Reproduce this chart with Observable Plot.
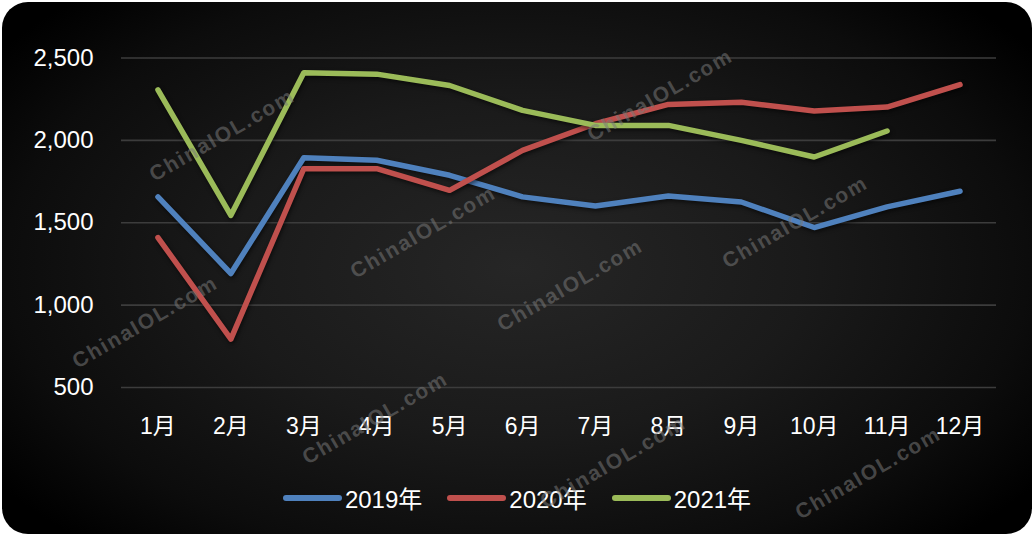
<!DOCTYPE html>
<html>
<head>
<meta charset="utf-8">
<script src="https://cdn.jsdelivr.net/npm/d3@7"></script>
<script src="https://cdn.jsdelivr.net/npm/@observablehq/plot@0.6"></script>
<style>
  html, body { margin: 0; padding: 0; background: #ffffff; }
  #wrap { position: relative; width: 1034px; height: 536px; overflow: hidden; font-family: "Liberation Sans", Arial, "Noto Sans CJK SC", sans-serif; }
  #card { position: absolute; left: 2px; top: 2px; width: 1030px; height: 532px; border-radius: 26px;
          background: radial-gradient(ellipse 62% 70% at 50% 50%, #262626 0%, #1a1a1a 45%, #0c0c0c 80%, #000000 100%); }
  #chart { position: absolute; left: 0; top: 0; }
  #legend { position: absolute; left: 0; top: 480px; width: 1034px; display: flex; justify-content: center; gap: 25px;
            color: #ffffff; font-size: 24px; padding-left: 0px; }
  .item { display: flex; align-items: center; }
  .sw { width: 59px; height: 6px; border-radius: 3px; margin-right: 3px; }
  .wm { position: absolute; color: rgba(120,120,120,0.55); font-weight: bold; font-size: 21px; letter-spacing: 1.8px;
        transform: translate(-50%,-50%) rotate(-30deg); white-space: nowrap; pointer-events: none; font-family: "Liberation Sans", Arial, sans-serif; }
</style>
</head>
<body>
<div id="wrap">
  <div id="card"></div>
  <div id="chart"></div>
  <div id="legend"></div>
</div>
<script>
const months = ["1月","2月","3月","4月","5月","6月","7月","8月","9月","10月","11月","12月"];
const seriesNames = ["2019年","2020年","2021年"];
const colors = ["#4F81BD","#C0504D","#9BBB59"];
const values2019 = [1657,1192,1895,1879,1788,1657,1602,1662,1626,1471,1596,1691];
const values2020 = [1410,794,1828,1828,1697,1939,2101,2218,2232,2178,2202,2338];
const values2021 = [2307,1545,2410,2402,2333,2182,2091,2091,2000,1899,2057,null];
const yTicks = [500,1000,1500,2000,2500];
const watermark = "ChinaIOL.com";
const watermarkSpots = [[222,135],[423,232],[145,322],[570,285],[660,95],[795,222],[375,418],[613,462],[868,473]];

const allSeries = [values2019, values2020, values2021];
const data = [];
allSeries.forEach((vals, si) => {
  vals.forEach((v, i) => {
    if (v !== null) data.push({month: months[i], value: v, series: seriesNames[si]});
  });
});

const chart = Plot.plot({
  width: 1034,
  height: 470,
  marginLeft: 121,
  marginRight: 38,
  marginTop: 57.5,
  marginBottom: 83,
  style: {background: "transparent", color: "#ffffff", fontFamily: "'Liberation Sans', Arial, 'Noto Sans CJK SC', sans-serif", fontSize: "22px"},
  x: {type: "point", domain: months, padding: 0.5, round: false, label: null},
  y: {domain: [500, 2500], label: null},
  color: {domain: seriesNames, range: colors},
  marks: [
    Plot.ruleY(yTicks, {stroke: "#3c3c3c", strokeWidth: 1.6}),
    Plot.axisY({ticks: yTicks, tickFormat: d3.format(","), tickSize: 0, tickPadding: 28, label: null, fontSize: 24}),
    Plot.axisX({tickSize: 0, tickPadding: 30, label: null, fontSize: 23}),
    Plot.line(data, {x: "month", y: "value", z: "series", stroke: "series", strokeWidth: 5.5,
                     strokeLinecap: "round", strokeLinejoin: "round"})
  ]
});
chart.querySelectorAll("path").forEach(p => p.style.filter = "drop-shadow(1px 2px 2px rgba(0,0,0,0.6))");
document.getElementById("chart").appendChild(chart);

const legend = document.getElementById("legend");
seriesNames.forEach((n, i) => {
  const item = document.createElement("div");
  item.className = "item";
  item.innerHTML = `<div class="sw" style="background:${colors[i]}"></div><span>${n}</span>`;
  legend.appendChild(item);
});

const wrap = document.getElementById("wrap");
watermarkSpots.forEach(([x, y]) => {
  const s = document.createElement("div");
  s.className = "wm";
  s.style.left = x + "px";
  s.style.top = y + "px";
  s.textContent = watermark;
  wrap.appendChild(s);
});
</script>
</body>
</html>
